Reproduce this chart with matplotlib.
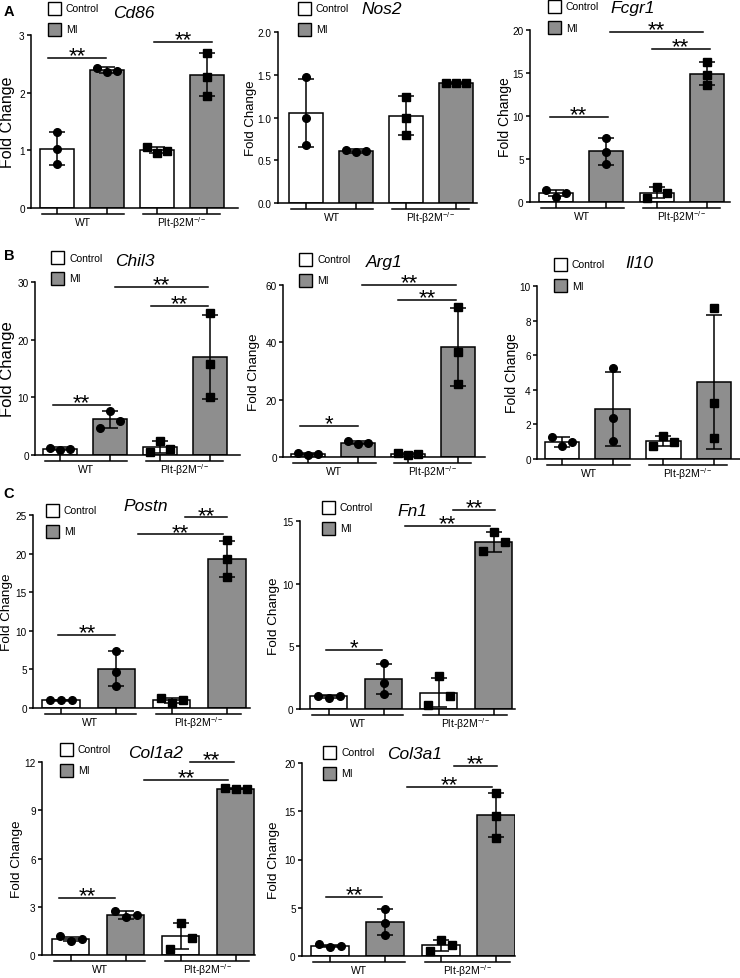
import numpy as np
import matplotlib
matplotlib.use('Agg')
import matplotlib.pyplot as plt
from matplotlib.patches import Rectangle
from matplotlib.transforms import offset_copy

plt.rcParams['font.family'] = ['Liberation Sans', 'DejaVu Sans']
plt.rcParams['mathtext.fontset'] = 'custom'
plt.rcParams['mathtext.rm'] = 'Liberation Sans'
plt.rcParams['mathtext.it'] = 'Liberation Sans:italic'

W, H = 740, 979
GRAY = '#8e8e8e'

conditions = ['Control', 'MI']
groups = ['WT', 'Plt-β2M$^{-/-}$']
# bar order: WT control, WT MI, Plt control, Plt MI

cd86_mean = [1.03, 2.39, 1.00, 2.31]
cd86_err = [0.29, 0.05, 0.05, 0.37]
cd86_pts = [[1.31, 1.02, 0.76], [2.43, 2.35, 2.38], [1.05, 0.95, 0.99], [2.68, 2.28, 1.95]]
cd86_sig = [(-0.17, 0.99, 2.6, '**'), (1.94, 3.09, 2.88, '**')]

nos2_mean = [1.05, 0.61, 1.02, 1.40]
nos2_err = [0.40, 0.02, 0.23, 0.01]
nos2_pts = [[1.47, 1.00, 0.68], [0.62, 0.60, 0.61], [1.24, 0.99, 0.79], [1.40, 1.40, 1.40]]
nos2_sig = []

fcgr1_mean = [1.05, 5.9, 1.1, 14.9]
fcgr1_err = [0.4, 1.55, 0.65, 1.35]
fcgr1_pts = [[1.4, 0.6, 1.0], [7.5, 5.8, 4.4], [0.5, 1.8, 1.1], [16.3, 14.8, 13.6]]
fcgr1_sig = [(-0.12, 1.03, 9.9, '**'), (1.9, 3.05, 17.8, '**'), (1.07, 2.91, 19.8, '**')]

chil3_mean = [1.1, 6.2, 1.4, 17.0]
chil3_err = [0.25, 1.5, 1.1, 7.3]
chil3_pts = [[1.3, 0.8, 1.1], [4.7, 7.6, 5.9], [0.5, 2.5, 1.0], [24.7, 15.8, 10.1]]
chil3_sig = [(-0.13, 1.0, 8.7, '**'), (1.82, 2.95, 25.8, '**'), (1.10, 2.95, 29.1, '**')]

arg1_mean = [1.0, 5.0, 1.0, 38.3]
arg1_err = [0.45, 0.45, 0.45, 13.6]
arg1_pts = [[1.5, 0.6, 1.0], [5.5, 4.5, 5.0], [1.5, 0.6, 1.0], [52.5, 36.6, 25.6]]
arg1_sig = [(-0.16, 1.0, 10.8, '*'), (1.8, 2.96, 54.8, '**'), (1.08, 2.96, 60.0, '**')]

il10_mean = [1.0, 2.9, 1.05, 4.45]
il10_err = [0.3, 2.15, 0.3, 3.9]
il10_pts = [[1.3, 0.75, 1.0], [5.25, 2.35, 1.05], [0.75, 1.35, 1.0], [8.75, 3.25, 1.2]]
il10_sig = []

postn_mean = [1.0, 5.1, 1.0, 19.3]
postn_err = [0.05, 2.3, 0.3, 2.35]
postn_pts = [[1.0, 1.0, 1.0], [7.4, 4.7, 2.9], [1.3, 0.7, 1.0], [21.7, 19.3, 17.0]]
postn_sig = [(-0.05, 0.98, 9.5, '**'), (1.39, 2.93, 22.5, '**'), (2.25, 3.0, 24.7, '**')]

fn1_mean = [1.0, 2.4, 1.3, 13.3]
fn1_err = [0.1, 1.2, 1.15, 0.8]
fn1_pts = [[1.0, 0.9, 1.0], [3.7, 2.1, 1.2], [0.3, 2.6, 1.0], [12.6, 14.1, 13.3]]
fn1_sig = [(-0.05, 0.98, 4.7, '*'), (1.39, 2.94, 14.6, '**'), (2.26, 3.03, 15.9, '**')]

col1a2_mean = [1.0, 2.5, 1.2, 10.35]
col1a2_err = [0.15, 0.25, 0.8, 0.05]
col1a2_pts = [[1.2, 0.85, 1.0], [2.75, 2.35, 2.5], [0.4, 2.0, 1.05], [10.4, 10.3, 10.35]]
col1a2_sig = [(-0.22, 0.81, 3.54, '**'), (1.34, 2.86, 10.9, '**'), (2.17, 2.96, 12.0, '**')]

col3a1_mean = [1.0, 3.5, 1.1, 14.6]
col3a1_err = [0.1, 1.35, 0.6, 2.3]
col3a1_pts = [[1.2, 0.9, 1.0], [4.9, 3.4, 2.2], [0.5, 1.7, 1.1], [16.9, 14.5, 12.2]]
col3a1_sig = [(-0.06, 0.95, 6.1, '**'), (1.4, 2.93, 17.5, '**'), (2.24, 3.02, 19.7, '**')]

panels = [
    ('Cd86', cd86_mean, cd86_err, cd86_pts, cd86_sig),
    ('Nos2', nos2_mean, nos2_err, nos2_pts, nos2_sig),
    ('Fcgr1', fcgr1_mean, fcgr1_err, fcgr1_pts, fcgr1_sig),
    ('Chil3', chil3_mean, chil3_err, chil3_pts, chil3_sig),
    ('Arg1', arg1_mean, arg1_err, arg1_pts, arg1_sig),
    ('Il10', il10_mean, il10_err, il10_pts, il10_sig),
    ('Postn', postn_mean, postn_err, postn_pts, postn_sig),
    ('Fn1', fn1_mean, fn1_err, fn1_pts, fn1_sig),
    ('Col1a2', col1a2_mean, col1a2_err, col1a2_pts, col1a2_sig),
    ('Col3a1', col3a1_mean, col3a1_err, col3a1_pts, col3a1_sig),
]

# layout in pixels: axes (left, right, top, bottom), xlim, y ticks, legend, title, ylabel
layout = {
    'Cd86': dict(rect=(31, 238, 36, 209), xlim=(-0.51, 3.61), ticks=[0, 1, 2, 3], leg=(48, 3), title=(113, 13), ylab=(8, 11.5)),
    'Nos2': dict(rect=(278, 477, 33, 204), xlim=(-0.55, 3.41), ticks=[0, 0.5, 1.0, 1.5, 2.0], leg=(298, 3), title=(361, 10), ylab=(251, 9.5)),
    'Fcgr1': dict(rect=(530, 730, 31, 203), xlim=(-0.51, 3.45), ticks=[0, 5, 10, 15, 20], leg=(548, 1), title=(610, 9), ylab=(505, 10)),
    'Chil3': dict(rect=(35, 240, 283, 456), xlim=(-0.49, 3.59), ticks=[0, 10, 20, 30], leg=(51, 252), title=(115, 262), ylab=(8, 12)),
    'Arg1': dict(rect=(283, 485, 286, 458), xlim=(-0.5, 3.54), ticks=[0, 20, 40, 60], leg=(299, 254), title=(366, 263), ylab=(254, 9.7)),
    'Il10': dict(rect=(537, 740, 287, 460), xlim=(-0.49, 3.51), ticks=[0, 2, 4, 6, 8, 10], leg=(554, 259), title=(625, 264), ylab=(512, 10)),
    'Postn': dict(rect=(33, 250, 516, 709), xlim=(-0.51, 3.42), ticks=[0, 5, 10, 15, 20, 25], leg=(46, 505), title=(123, 507), ylab=(7, 9.7)),
    'Fn1': dict(rect=(300, 515, 522, 710), xlim=(-0.52, 3.39), ticks=[0, 5, 10, 15], leg=(322, 502), title=(397, 511), ylab=(274, 9.7)),
    'Col1a2': dict(rect=(42, 255, 763, 956), xlim=(-0.52, 3.35), ticks=[0, 3, 6, 9, 12], leg=(60, 744), title=(128, 754), ylab=(17, 9.7)),
    'Col3a1': dict(rect=(302, 515, 764, 957), xlim=(-0.5, 3.34), ticks=[0, 5, 10, 15, 20], leg=(323, 747), title=(387, 755), ylab=(274, 9.7)),
}

fig = plt.figure(figsize=(W / 100, H / 100), dpi=100)


def fx(px):
    return px / W


def fy(py):
    return 1 - py / H


for name, mean, err, pts, sig in panels:
    lay = layout[name]
    l, r, t, b = lay['rect']
    ax = fig.add_axes([fx(l), fy(b), (r - l) / W, (b - t) / H])
    x = np.arange(4)
    ymax = lay['ticks'][-1]
    ax.bar(x, mean, width=0.68, color=['white', GRAY, 'white', GRAY],
           edgecolor='black', linewidth=1.1, zorder=2)
    ax.errorbar(x, mean, yerr=err, fmt='none', ecolor='black', elinewidth=1.1,
                capsize=6, capthick=1.1, zorder=3)
    for i in range(4):
        p = np.array(pts[i])
        if np.min(np.diff(np.sort(p))) < 0.058 * ymax:
            xs = i + np.array([-0.2, 0, 0.2])
        else:
            xs = np.full(3, float(i))
        ax.plot(xs, p, ls='none', marker='o' if i < 2 else 's', ms=5.5,
                color='black', zorder=4, clip_on=False)

    for x1, x2, y, lab in sig:
        ax.plot([x1, x2], [y, y], color='black', lw=1.1, clip_on=False)
        ax.annotate(lab, ((x1 + x2) / 2, y), xytext=(0, 1.5), textcoords='offset points',
                    ha='center', va='center', fontsize=16, annotation_clip=False)

    ax.set_xlim(*lay['xlim'])
    ax.set_ylim(0, ymax)
    ax.set_yticks(lay['ticks'])
    if name == 'Nos2':
        ax.set_yticklabels(['%.1f' % v for v in lay['ticks']])
    else:
        ax.set_yticklabels([str(v) for v in lay['ticks']])
    ax.set_xticks(x)
    ax.set_xticklabels([])
    ax.tick_params(axis='y', length=3, width=1.1, labelsize=7.2, pad=1.5)
    ax.tick_params(axis='x', length=4.3, width=1.1)
    for s in ['top', 'right']:
        ax.spines[s].set_visible(False)
    for s in ['left', 'bottom']:
        ax.spines[s].set_linewidth(1.1)

    # group underlines and labels
    tl = offset_copy(ax.get_xaxis_transform(), fig=fig, y=-6, units='dots')
    tt = offset_copy(ax.get_xaxis_transform(), fig=fig, y=-14, units='dots')
    for (g0, g1), g in zip([(-0.3, 1.35), (1.72, 3.25)], groups):
        ax.plot([g0, g1], [0, 0], color='black', lw=1.1, transform=tl, clip_on=False)
        ax.text((g0 + g1) / 2, 0, g, transform=tt, ha='center', va='center', fontsize=7.5)

    # legend
    lx, ly = lay['leg']
    for k, (c, fc) in enumerate(zip(conditions, ['white', GRAY])):
        yy = ly + 21 * k
        fig.add_artist(Rectangle((fx(lx), fy(yy + 13)), 13 / W, 13 / H, transform=fig.transFigure,
                                 facecolor=fc, edgecolor='black', linewidth=1.0))
        fig.text(fx(lx + 18), fy(yy + 6.5), c, va='center', ha='left', fontsize=7.5)

    tx, ty = lay['title']
    fig.text(fx(tx), fy(ty), name, style='italic', fontsize=12.5, va='center', ha='left')
    yx, ys = lay['ylab']
    fig.text(fx(yx), fy((t + b) / 2), 'Fold Change', rotation=90, ha='center', va='center', fontsize=ys)

for lab, py in [('A', 12), ('B', 256), ('C', 494)]:
    fig.text(fx(9), fy(py), lab, fontweight='bold', fontsize=10.5, ha='center', va='center')

fig.savefig('out.png', dpi=100)
